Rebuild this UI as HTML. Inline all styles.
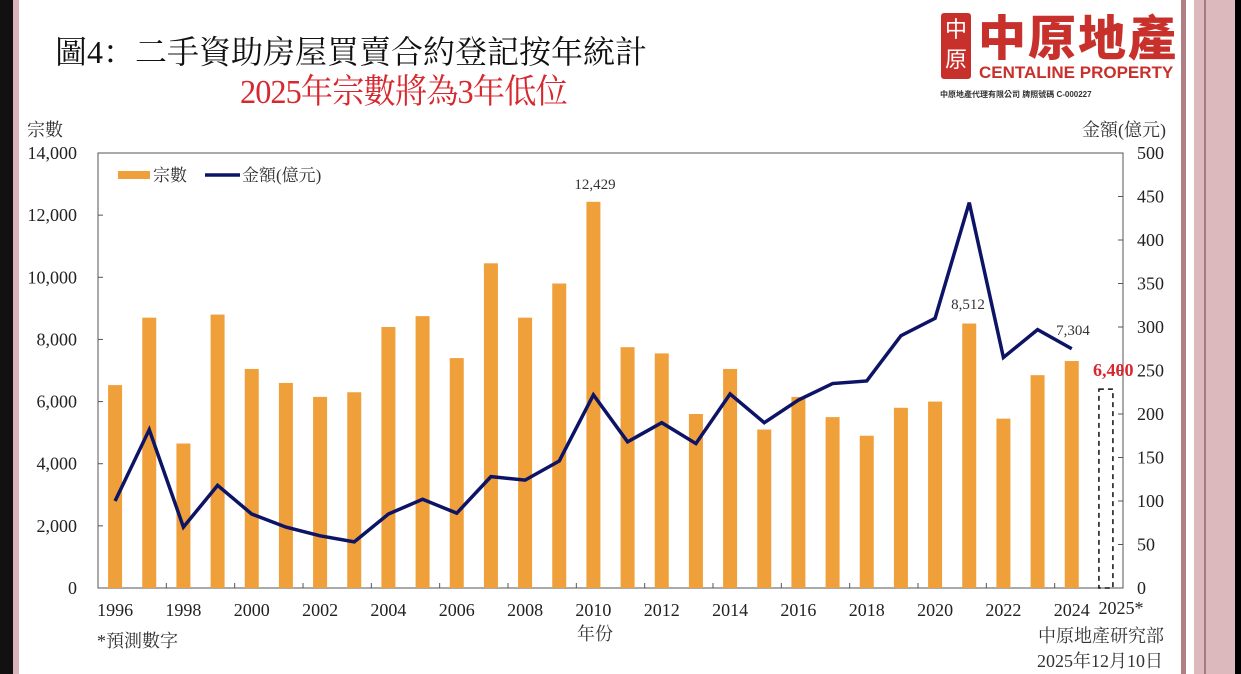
<!DOCTYPE html>
<html><head><meta charset="utf-8"><style>
body{margin:0;width:1241px;height:674px;overflow:hidden;background:#fff;position:relative;font-family:"Liberation Serif","Noto Serif CJK SC","Noto Sans CJK TC",serif}
.a{position:absolute;white-space:nowrap}
</style></head><body>
<div class="a" style="left:0;top:0;width:13px;height:674px;background:#111"></div>
<div class="a" style="left:13px;top:0;width:6px;height:674px;background:#d9b5b9"></div>
<div class="a" style="left:1181px;top:0;width:5px;height:674px;background:#b07f84"></div>
<div class="a" style="left:1194px;top:0;width:41px;height:674px;background:#dcb9bd"></div>
<div class="a" style="left:1204px;top:0;width:2px;height:674px;background:#a87a80"></div>
<div class="a" style="left:1235px;top:0;width:6px;height:674px;background:#000"></div>
<div class="a" style="left:55px;top:27px;font-size:32px;color:#111;font-family:'Liberation Serif','Noto Serif CJK SC',serif">圖4：二手資助房屋買賣合約登記按年統計</div>
<div class="a" style="left:240px;top:64px;font-size:34px;color:#d7282f;letter-spacing:-1px;transform:scaleX(0.95);transform-origin:0 0">2025年宗數將為3年低位</div>
<div class="a" style="left:941px;top:13px;width:30px;height:66px;background:#c8302c;border-radius:3px;color:#fff;font-size:22px;line-height:30px;text-align:center;font-family:'Noto Sans CJK TC',sans-serif">中<br>原</div>
<div class="a" style="left:978px;top:4px;font-size:48px;font-weight:900;color:#c8302c;letter-spacing:2px;font-family:'Noto Sans CJK TC',sans-serif;line-height:60px">中原地產</div>
<div class="a" style="left:979px;top:63px;font-size:17px;font-weight:bold;color:#c8302c;font-family:'Liberation Sans',sans-serif">CENTALINE PROPERTY</div>
<div class="a" style="left:940px;top:89px;font-size:8px;font-weight:bold;color:#333;font-family:'Liberation Sans','Noto Sans CJK TC',sans-serif">中原地產代理有限公司 牌照號碼 C-000227</div>
<svg class="a" style="left:0;top:0" width="1241" height="674" id="s"></svg>
<script>
const s=document.getElementById('s');let h='';
const L=98,R=1123,T=153,B=588,cw=(R-L)/30;
const bars=[6530,8700,4650,8800,7050,6600,6150,6300,8400,8750,7400,10450,8700,9800,12429,7750,7550,5600,7050,5100,6150,5500,4900,5800,6000,8512,5450,6850,7304];
const line=[100,182,70,118,85,70,60,53,85,102,86,128,124,146,222,168,190,166,223,190,216,235,238,290,310,443,265,297,275];
const yl=v=>B-v/14000*(B-T), yr=v=>B-v/500*(B-T);
const cx=i=>L+cw*(i+0.5);
h+=`<rect x="${L}" y="${T}" width="${R-L}" height="${B-T}" fill="none" stroke="#555" stroke-width="1"/>`;
bars.forEach((v,i)=>{h+=`<rect x="${cx(i)-7}" y="${yl(v)}" width="14" height="${B-yl(v)}" fill="#f0a03a"/>`});
h+=`<rect x="${cx(29)-7}" y="${yl(6400)}" width="14" height="${B-yl(6400)}" fill="none" stroke="#111" stroke-width="1.5" stroke-dasharray="5,4"/>`;
h+=`<polyline fill="none" stroke="#0d1466" stroke-width="3.5" stroke-linejoin="miter" points="${line.map((v,i)=>cx(i)+','+yr(v)).join(' ')}"/>`;
for(let k=0;k<=7;k++){const y=yl(k*2000);h+=`<line x1="${L}" x2="${L+5}" y1="${y}" y2="${y}" stroke="#555"/><text x="77" y="${y+6}" text-anchor="end" font-size="18" fill="#222">${k?(k*2)+',000':'0'}</text>`}
for(let k=0;k<=10;k++){const y=yr(k*50);h+=`<line x1="${R-5}" x2="${R}" y1="${y}" y2="${y}" stroke="#555"/><text x="1137" y="${y+6}" font-size="18" fill="#222">${k*50}</text>`}
for(let i=0;i<=30;i+=2){const x=L+cw*i;h+=`<line x1="${x}" x2="${x}" y1="${B}" y2="${B-5}" stroke="#555"/>`}
for(let i=0;i<29;i+=2){h+=`<text x="${cx(i)}" y="616" text-anchor="middle" font-size="18" fill="#222">${1996+i}</text>`}
h+=`<text x="1121" y="614" text-anchor="middle" font-size="18" fill="#222">2025*</text>`;
h+=`<text x="595" y="189" text-anchor="middle" font-size="15" fill="#333">12,429</text>`;
h+=`<text x="968" y="309" text-anchor="middle" font-size="15" fill="#333">8,512</text>`;
h+=`<text x="1073" y="335" text-anchor="middle" font-size="15" fill="#333">7,304</text>`;
h+=`<text x="1093" y="376" font-size="18" font-weight="bold" fill="#d7282f">6,400</text>`;
h+=`<rect x="118" y="171" width="32" height="8" fill="#f0a03a"/><text x="153" y="181" font-size="17" fill="#333">宗數</text>`;
h+=`<line x1="205" x2="240" y1="175" y2="175" stroke="#0d1466" stroke-width="3.5"/><text x="242" y="181" font-size="17" fill="#333">金額(億元)</text>`;
h+=`<text x="27" y="136" font-size="18" fill="#333">宗數</text><text x="1082" y="136" font-size="18" fill="#333">金額(億元)</text>`;
h+=`<text x="595" y="640" text-anchor="middle" font-size="18" fill="#333">年份</text>`;
h+=`<text x="97" y="647" font-size="18" fill="#333">*預測數字</text>`;
h+=`<text x="1164" y="642" text-anchor="end" font-size="18" fill="#333">中原地產研究部</text>`;
h+=`<text x="1163" y="667" text-anchor="end" font-size="18" fill="#333">2025年12月10日</text>`;
s.innerHTML=h;
</script>
</body></html>
